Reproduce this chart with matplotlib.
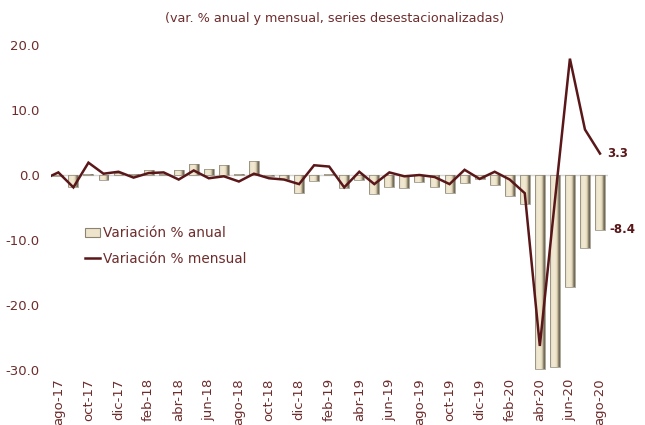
import numpy as np
import matplotlib
matplotlib.use("Agg")
import matplotlib.pyplot as plt
from matplotlib.colors import LinearSegmentedColormap
from matplotlib.patches import Patch
from matplotlib.lines import Line2D

# Etiquetas del eje (cada dos meses) y meses de la serie
meses = ['ago-17', 'sep-17', 'oct-17', 'nov-17', 'dic-17', 'ene-18', 'feb-18', 'mar-18',
         'abr-18', 'may-18', 'jun-18', 'jul-18', 'ago-18', 'sep-18', 'oct-18', 'nov-18',
         'dic-18', 'ene-19', 'feb-19', 'mar-19', 'abr-19', 'may-19', 'jun-19', 'jul-19',
         'ago-19', 'sep-19', 'oct-19', 'nov-19', 'dic-19', 'ene-20', 'feb-20', 'mar-20',
         'abr-20', 'may-20', 'jun-20', 'jul-20', 'ago-20']

# Variacion % anual (barras), ago-17 .. ago-20
anual = [-0.1, -1.8, 0.2, -0.8, 0.3, 0.1, 0.7, 0.2, 0.7, 1.7, 0.9, 1.6, 0.2, 2.2,
         -0.2, -0.6, -2.7, -0.9, 0.1, -2.0, -0.7, -2.9, -1.9, -2.0, -1.0, -1.8, -2.8,
         -1.3, -0.6, -1.5, -3.2, -4.4, -29.9, -29.5, -17.2, -11.3, -8.4]

# Variacion % mensual (linea), jul-17 .. ago-20 (jul-17 queda fuera del eje)
mensual = [-0.7, 0.4, -1.9, 1.9, 0.2, 0.5, -0.4, 0.3, 0.4, -0.7, 0.7, -0.5, -0.2,
           -1.0, 0.2, -0.5, -0.7, -1.4, 1.5, 1.3, -1.9, 0.5, -1.4, 0.4, -0.2, 0.0,
           -0.3, -1.4, 0.8, -0.6, 0.5, -0.7, -2.8, -26.3, -4.0, 17.9, 7.0, 3.3]

texto = '#6e2c2c'
linea = '#5a1719'
plt.rcParams['font.family'] = 'DejaVu Sans'

fig = plt.figure(figsize=(6.45, 4.25), dpi=100)
ax = fig.add_axes([0.0788, 0.1294, 0.8631, 0.7647])

x = np.arange(len(meses))
ancho = 0.66
cmap = LinearSegmentedColormap.from_list('bisel', [
    (0.0, '#b7ae9a'), (0.15, '#efe6cf'), (0.5, '#f2e9d3'),
    (0.72, '#e2d4b4'), (0.82, '#9d937d'), (1.0, '#676050')])
grad = np.linspace(0, 1, 64).reshape(1, -1)

ax.axhline(0, color='#d6d6d6', lw=1, zorder=1)
barras = ax.bar(x, anual, width=ancho, color='none', edgecolor='#8c8473', lw=0.5, zorder=3)
for b in barras:
    x0, y0 = b.get_x(), b.get_y()
    im = ax.imshow(grad, cmap=cmap, aspect='auto', zorder=2,
                   extent=[x0, x0 + b.get_width(), y0, y0 + b.get_height()])
    im.set_clip_path(b)

xm = np.arange(-1, len(meses))
ax.plot(xm, mensual, color=linea, lw=1.8, zorder=4, solid_joinstyle='miter')

ax.set_xlim(-0.5, len(meses) - 0.5)
ax.set_ylim(-30, 20)
ax.set_yticks(np.arange(-30, 21, 10))
ax.set_yticklabels([f'{v:.1f}' for v in np.arange(-30, 21, 10)])
ax.set_xticks(x[::2])
ax.set_xticklabels(meses[::2], rotation=90, va='top', ha='center')
ax.tick_params(axis='both', length=0, colors=texto, labelsize=9.5)
ax.tick_params(axis='y', pad=8)
ax.tick_params(axis='x', pad=6)
for s in ax.spines.values():
    s.set_visible(False)

ax.annotate('3.3', xy=(x[-1], mensual[-1]), xytext=(5, 0), textcoords='offset points',
            ha='left', va='center', fontsize=8.5, fontweight='bold', color=linea)
ax.annotate('-8.4', xy=(x[-1], anual[-1]), xytext=(7, 0), textcoords='offset points',
            ha='left', va='center', fontsize=8.5, fontweight='bold', color=linea)

handles = [Patch(facecolor='#eee4cc', edgecolor='#8c8473', lw=0.8),
           Line2D([], [], color=linea, lw=1.8)]
ax.legend(handles, ['Variación % anual', 'Variación % mensual'],
          loc='upper left', bbox_to_anchor=(0.049, 0.464), frameon=False,
          fontsize=9.8, labelcolor=texto, handlelength=1.1, handleheight=0.6,
          handletextpad=0.2, labelspacing=0.85, borderpad=0)

fig.text(0.519, 0.957, '(var. % anual y mensual, series desestacionalizadas)',
         ha='center', va='center', fontsize=9.2, color=texto)

fig.savefig('out.png', dpi=100)
